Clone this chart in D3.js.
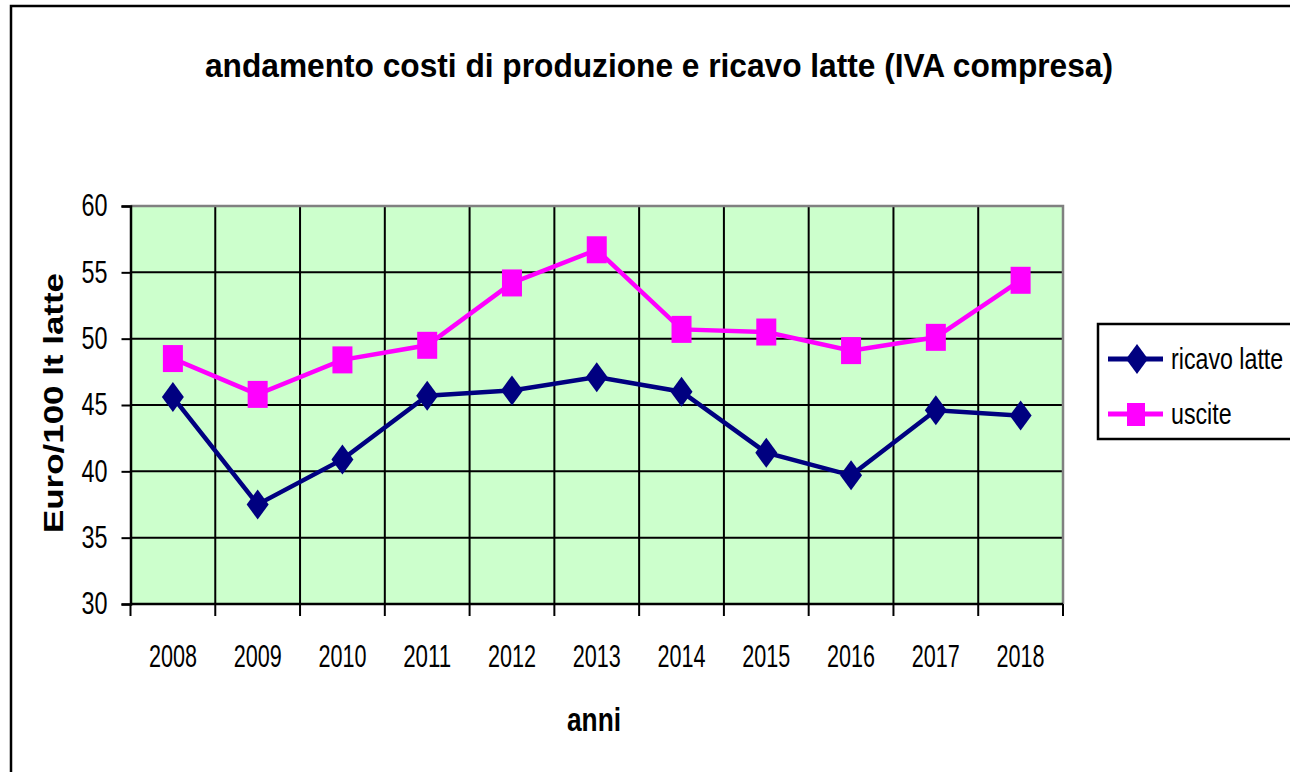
<!DOCTYPE html>
<meta charset="utf-8">
<script src="https://d3js.org/d3.v7.min.js"></script>
<style>
  body { margin: 0; background: #fff; }
  text { font-family: "Liberation Sans", Arial, sans-serif; }
</style>
<div id="chart"></div>
<script>

// data
var years = ["2008","2009","2010","2011","2012","2013","2014","2015","2016","2017","2018"];
var ricavoLatte = [45.6, 37.5, 40.9, 45.7, 46.1, 47.1, 46.0, 41.4, 39.7, 44.6, 44.2];
var uscite = [48.5, 45.8, 48.4, 49.5, 54.2, 56.7, 50.7, 50.5, 49.1, 50.1, 54.4];
var yTicks = [30, 35, 40, 45, 50, 55, 60];

var W = 1290, H = 772;
var plot = {left: 130.5, right: 1063, top: 206, bottom: 604};

var svg = d3.select("#chart").append("svg")
  .attr("width", W).attr("height", H);

// the original looks horizontally squashed, so text is narrowed
function squeeze(sel, k) {
  sel.each(function() {
    var w = this.getComputedTextLength();
    this.setAttribute("textLength", w * k);
    this.setAttribute("lengthAdjust", "spacingAndGlyphs");
  });
}

// outer chart border
svg.append("rect")
  .attr("x", 11).attr("y", 6)
  .attr("width", 1400).attr("height", 900)
  .attr("fill", "#fff").attr("stroke", "#000").attr("stroke-width", 2.5);

var x = d3.scaleBand()
  .domain(years)
  .range([plot.left, plot.right]);

var y = d3.scaleLinear()
  .domain([30, 60])
  .range([plot.bottom, plot.top]);

// plot background
svg.append("rect")
  .attr("x", plot.left).attr("y", plot.top)
  .attr("width", plot.right - plot.left).attr("height", plot.bottom - plot.top)
  .attr("fill", "#ccffcc");

// horizontal gridlines
svg.append("g").selectAll("line")
  .data(yTicks.filter(function(d) { return d > 30 && d < 60; }))
  .enter().append("line")
    .attr("x1", plot.left).attr("x2", plot.right)
    .attr("y1", function(d) { return y(d); }).attr("y2", function(d) { return y(d); })
    .attr("stroke", "#000").attr("stroke-width", 2);

// vertical gridlines at category boundaries
var bounds = years.map(function(d) { return x(d); }).concat([x(years[years.length-1]) + x.bandwidth()]);
svg.append("g").selectAll("line")
  .data(bounds.slice(1, -1))
  .enter().append("line")
    .attr("x1", function(d) { return d; }).attr("x2", function(d) { return d; })
    .attr("y1", plot.top).attr("y2", plot.bottom)
    .attr("stroke", "#000").attr("stroke-width", 2);

// top and right border in grey
svg.append("path")
  .attr("d", "M" + plot.left + "," + plot.top + "H" + plot.right + "V" + plot.bottom)
  .attr("fill", "none").attr("stroke", "#808080").attr("stroke-width", 2.5);

// Y axis
var yAxis = svg.append("g")
  .attr("transform", "translate(" + plot.left + ",0)")
  .call(d3.axisLeft(y).tickValues(yTicks).tickSize(9).tickPadding(14));
yAxis.select(".domain").attr("stroke", "#000").attr("stroke-width", 2.5);
yAxis.selectAll(".tick line").attr("stroke", "#000").attr("stroke-width", 2);
yAxis.selectAll("text")
  .attr("font-size", 31).attr("fill", "#000")
  .attr("font-family", "Liberation Sans, Arial, sans-serif")
  .attr("textLength", 26).attr("lengthAdjust", "spacingAndGlyphs");

// X axis: labels at category centres (band axis), ticks on boundaries
var xAxis = svg.append("g")
  .attr("transform", "translate(0," + plot.bottom + ")")
  .call(d3.axisBottom(x).tickSize(0).tickPadding(41));
xAxis.select(".domain").remove();
xAxis.selectAll("text")
  .attr("font-size", 31).attr("fill", "#000")
  .attr("font-family", "Liberation Sans, Arial, sans-serif")
  .attr("textLength", 48).attr("lengthAdjust", "spacingAndGlyphs");

svg.append("line")
  .attr("x1", plot.left).attr("x2", plot.right)
  .attr("y1", plot.bottom).attr("y2", plot.bottom)
  .attr("stroke", "#000").attr("stroke-width", 2.5);
svg.append("g").selectAll("line")
  .data(bounds)
  .enter().append("line")
    .attr("x1", function(d) { return d; }).attr("x2", function(d) { return d; })
    .attr("y1", plot.bottom).attr("y2", plot.bottom + 12)
    .attr("stroke", "#000").attr("stroke-width", 2);

var cx = function(d, i) { return x(years[i]) + x.bandwidth() / 2; };

// series lines
var line = d3.line()
  .x(function(d, i) { return cx(d, i); })
  .y(function(d) { return y(d); });

svg.append("path").datum(ricavoLatte)
  .attr("fill", "none").attr("stroke", "#000080").attr("stroke-width", 4.5)
  .attr("d", line);
svg.append("path").datum(uscite)
  .attr("fill", "none").attr("stroke", "#ff00ff").attr("stroke-width", 4.5)
  .attr("d", line);

// markers
function diamond(cxp, cyp) {
  return "M" + cxp + "," + (cyp - 15) + "L" + (cxp + 11) + "," + cyp +
         "L" + cxp + "," + (cyp + 15) + "L" + (cxp - 11) + "," + cyp + "Z";
}
svg.append("g").selectAll("path")
  .data(ricavoLatte)
  .enter().append("path")
    .attr("d", function(d, i) { return diamond(cx(d, i), y(d)); })
    .attr("fill", "#000080");

svg.append("g").selectAll("rect")
  .data(uscite)
  .enter().append("rect")
    .attr("x", function(d, i) { return cx(d, i) - 10; })
    .attr("y", function(d) { return y(d) - 13.5; })
    .attr("width", 20).attr("height", 27)
    .attr("fill", "#ff00ff");

// titles
svg.append("text")
  .attr("x", 659).attr("y", 77)
  .attr("text-anchor", "middle")
  .attr("font-size", 34).attr("font-weight", "bold")
  .attr("textLength", 908).attr("lengthAdjust", "spacingAndGlyphs")
  .text("andamento costi di produzione e ricavo latte (IVA compresa)");

svg.append("text")
  .attr("x", 594).attr("y", 731)
  .attr("text-anchor", "middle")
  .attr("font-size", 33).attr("font-weight", "bold")
  .attr("textLength", 54).attr("lengthAdjust", "spacingAndGlyphs")
  .text("anni");

svg.append("text")
  .attr("transform", "translate(63,403) rotate(-90)")
  .attr("text-anchor", "middle")
  .attr("font-size", 27).attr("font-weight", "bold")
  .attr("textLength", 260).attr("lengthAdjust", "spacingAndGlyphs")
  .text("Euro/100 lt latte");

// legend
var legend = svg.append("g").attr("transform", "translate(1098,324)");
legend.append("rect")
  .attr("width", 260).attr("height", 115)
  .attr("fill", "#fff").attr("stroke", "#000").attr("stroke-width", 2.5);

var legendItems = [
  {name: "ricavo latte", color: "#000080", shape: "diamond", y: 35},
  {name: "uscite", color: "#ff00ff", shape: "square", y: 90}
];
legendItems.forEach(function(it) {
  legend.append("line")
    .attr("x1", 10).attr("x2", 65)
    .attr("y1", it.y).attr("y2", it.y)
    .attr("stroke", it.color).attr("stroke-width", 5);
  if (it.shape === "diamond") {
    legend.append("path").attr("d", diamond(39, it.y)).attr("fill", it.color);
  } else {
    legend.append("rect")
      .attr("x", 29).attr("y", it.y - 11)
      .attr("width", 18).attr("height", 23)
      .attr("fill", it.color);
  }
  legend.append("text")
    .attr("x", 73).attr("y", it.y + 10)
    .attr("font-size", 29)
    .text(it.name)
    .call(squeeze, 0.8);
});

</script>
